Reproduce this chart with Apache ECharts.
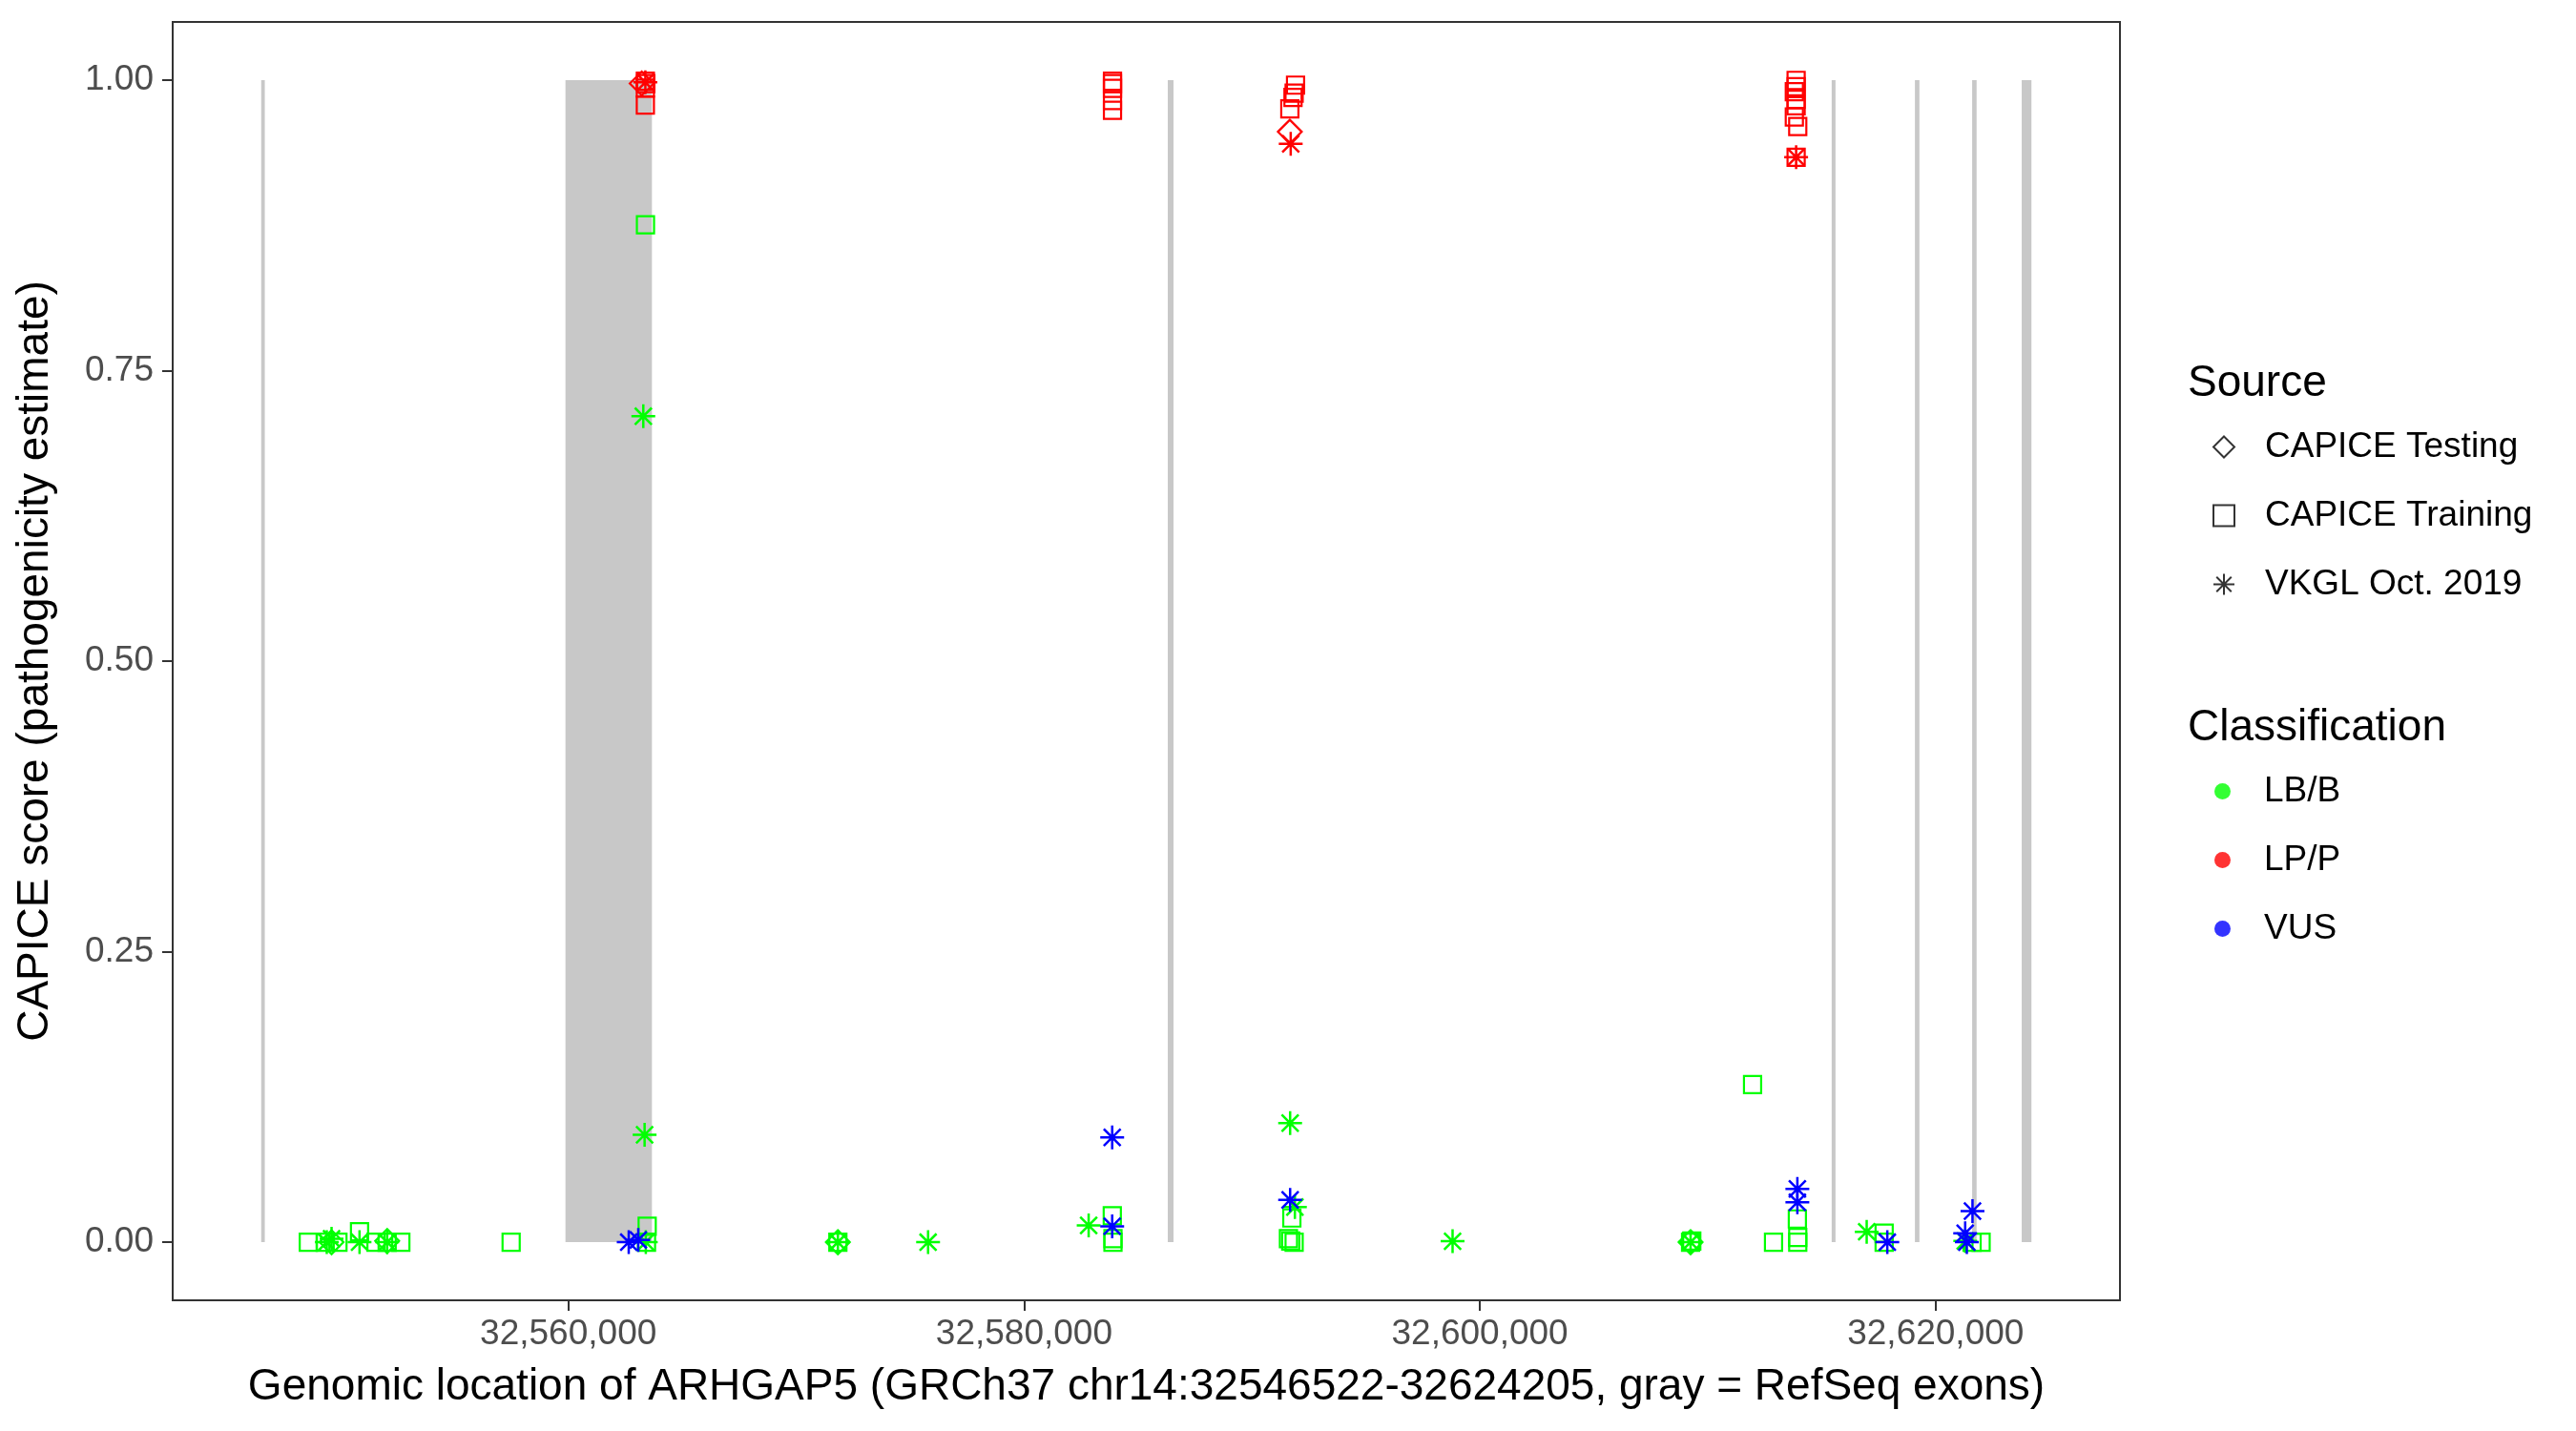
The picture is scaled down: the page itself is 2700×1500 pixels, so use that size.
<!DOCTYPE html>
<html>
<head>
<meta charset="utf-8">
<script src="https://cdn.jsdelivr.net/npm/echarts@6/dist/echarts.min.js"></script>
<style>
html,body{margin:0;padding:0;background:#fff;}
#chart{width:2700px;height:1500px;}
</style>
</head>
<body>
<div id="chart"></div>
<script>
// ---- Data ----
const xTicks = [32560000, 32580000, 32600000, 32620000];
const yTicks = [0, 0.25, 0.5, 0.75, 1.0];

// RefSeq exons [start, end]
const exonStarts = [32546522, 32559874, 32586305, 32615439, 32619092, 32621603, 32623778];
const exonEnds   = [32546680, 32563669, 32586556, 32615607, 32619289, 32621799, 32624205];

// CAPICE Training (squares)
const trainingLBB = [[32548590,0],[32549330,0],[32549890,0],[32550837,0.009],[32551561,0],[32552050,0],[32552650,0],[32557490,0],[32563385,0.8755],[32563460,0.0137],[32563430,0],[32571828,0],[32583870,0.0227],[32583900,0.003],[32583900,0],[32591750,0.0208],[32591600,0.003],[32591700,0.001],[32591850,0],[32609247,0],[32609300,0.001],[32611967,0.1356],[32612887,0],[32613933,0.020],[32613950,0.004],[32613950,0],[32617741,0.0077],[32617741,0],[32621996,0],[32621600,0]];
const trainingLPP = [[32563380,0.999],[32563400,0.997],[32563380,0.993],[32563380,0.9785],[32583879,0.999],[32583879,0.997],[32583879,0.9928],[32583879,0.9823],[32583879,0.9739],[32591912,0.9956],[32591850,0.9888],[32591800,0.985],[32591661,0.9752],[32613879,0.9997],[32613879,0.9943],[32613800,0.990],[32613879,0.9834],[32613879,0.9779],[32613800,0.9683],[32613950,0.960],[32613879,0.9336]];

// CAPICE Testing (diamonds)
const testingLBB = [[32549610,0],[32552050,0.001],[32571828,0],[32609247,0]];
const testingLPP = [[32563220,0.997],[32591661,0.9555]];

// VKGL Oct. 2019 (asterisks)
const vkglLBB = [[32549610,0.003],[32549400,0],[32550837,0],[32552050,0],[32563290,0.7107],[32563347,0.0924],[32563400,0],[32571828,0],[32575787,0],[32582833,0.0145],[32591674,0.1025],[32591883,0.0303],[32598803,0.0008],[32609247,0],[32616975,0.009],[32621300,0.001]];
const vkglLPP = [[32563380,0.998],[32591700,0.9451],[32613879,0.9336]];
const vkglVUS = [[32562650,0],[32563070,0.002],[32583866,0.0902],[32583866,0.0137],[32591674,0.0364],[32613933,0.0459],[32613933,0.0344],[32617880,0],[32621618,0.0268],[32621297,0.0077],[32621370,0]];

const sourceNames = ['CAPICE Testing', 'CAPICE Training', 'VKGL Oct. 2019'];
const classNames = ['LB/B', 'LP/P', 'VUS'];

// ---- Styling ----
const FONT = '"Liberation Sans", Arial, Helvetica, sans-serif';
const COL = {'LB/B': '#00FF00', 'LP/P': '#FF0000', 'VUS': '#0000FF'};
const ASTERISK = 'path://M0,-10L0,10M-10,0L10,0M-7.07,-7.07L7.07,7.07M-7.07,7.07L7.07,-7.07';
const SHAPE = {
  'CAPICE Testing': {symbol: 'diamond', size: 25},
  'CAPICE Training': {symbol: 'rect', size: 18},
  'VKGL Oct. 2019': {symbol: ASTERISK, size: 25}
};

function pointSeries(name, source, cls, data) {
  return {
    name: name,
    type: 'scatter',
    data: data,
    symbol: SHAPE[source].symbol,
    symbolSize: SHAPE[source].size,
    itemStyle: {color: 'transparent', borderColor: COL[cls], borderWidth: source === 'VKGL Oct. 2019' ? 2.5 : 2.2, opacity: 1},
    emphasis: {disabled: true},
    silent: true,
    z: 3
  };
}

const exonData = exonStarts.map((s, i) => [s, exonEnds[i], 0, 1]);

const series = [
  {
    name: 'exons',
    type: 'custom',
    data: exonData,
    encode: {x: [0, 1], y: [2, 3]},
    silent: true,
    z: 1,
    renderItem: function (params, api) {
      const a = api.coord([api.value(0), api.value(3)]);
      const b = api.coord([api.value(1), api.value(2)]);
      return {
        type: 'rect',
        shape: {x: a[0], y: a[1], width: Math.max(b[0] - a[0], 1), height: b[1] - a[1]},
        style: {fill: '#C8C8C8'}
      };
    }
  },
  pointSeries('tr_LBB', 'CAPICE Training', 'LB/B', trainingLBB),
  pointSeries('te_LBB', 'CAPICE Testing', 'LB/B', testingLBB),
  pointSeries('vk_LBB', 'VKGL Oct. 2019', 'LB/B', vkglLBB),
  pointSeries('tr_LPP', 'CAPICE Training', 'LP/P', trainingLPP),
  pointSeries('te_LPP', 'CAPICE Testing', 'LP/P', testingLPP),
  pointSeries('vk_LPP', 'VKGL Oct. 2019', 'LP/P', vkglLPP),
  pointSeries('vk_VUS', 'VKGL Oct. 2019', 'VUS', vkglVUS)
];

// legend dummy series
sourceNames.forEach(n => {
  series.push({
    name: n, type: 'scatter', data: [],
    symbol: SHAPE[n].symbol,
    itemStyle: {color: 'transparent', borderColor: '#000000', borderWidth: 2.2}
  });
});
classNames.forEach(n => {
  series.push({
    name: n, type: 'scatter', data: [],
    symbol: 'circle',
    itemStyle: {color: COL[n]}
  });
});

const fmtComma = v => Math.round(v).toString().replace(/\B(?=(\d{3})+(?!\d))/g, ',');

const option = {
  backgroundColor: '#ffffff',
  animation: false,
  textStyle: {fontFamily: FONT},
  title: [
    {text: 'Source', left: 2288, top: 374, textStyle: {fontFamily: FONT, fontSize: 46, fontWeight: 'normal', color: '#000', lineHeight: 46}},
    {text: 'Classification', left: 2288, top: 735, textStyle: {fontFamily: FONT, fontSize: 46, fontWeight: 'normal', color: '#000', lineHeight: 46}}
  ],
  legend: [
    {
      data: sourceNames,
      orient: 'vertical',
      left: 2314, top: 445,
      itemWidth: 22, itemHeight: 22, itemGap: 35,
      selectedMode: false,
      textStyle: {fontFamily: FONT, fontSize: 37, color: '#000', lineHeight: 22, padding: [0, 0, 0, 27]}
    },
    {
      data: classNames,
      orient: 'vertical',
      left: 2316, top: 806,
      itemWidth: 17, itemHeight: 17, itemGap: 35,
      selectedMode: false,
      textStyle: {fontFamily: FONT, fontSize: 37, color: '#000', lineHeight: 17, padding: [0, 0, 0, 30]}
    }
  ],
  grid: {
    left: 181, right: 478, top: 23, bottom: 137,
    show: true, borderColor: '#333333', borderWidth: 2, backgroundColor: 'transparent',
    containLabel: false
  },
  xAxis: {
    type: 'value',
    min: 32542638, max: 32628089,
    name: 'Genomic location of ARHGAP5 (GRCh37 chr14:32546522-32624205, gray = RefSeq exons)',
    nameLocation: 'middle', nameGap: 68,
    nameTextStyle: {fontFamily: FONT, fontSize: 46, color: '#000'},
    axisLine: {show: false, onZero: false},
    splitLine: {show: false},
    axisTick: {show: true, inside: false, customValues: xTicks, length: 11, lineStyle: {color: '#333333', width: 2}},
    axisLabel: {customValues: xTicks, formatter: fmtComma, fontFamily: FONT, fontSize: 37, color: '#4D4D4D', margin: 17}
  },
  yAxis: {
    type: 'value',
    min: -0.05, max: 1.05,
    name: 'CAPICE score (pathogenicity estimate)',
    nameLocation: 'middle', nameGap: 121,
    nameTextStyle: {fontFamily: FONT, fontSize: 46, color: '#000'},
    axisLine: {show: false, onZero: false},
    splitLine: {show: false},
    axisTick: {show: true, inside: false, customValues: yTicks, length: 11, lineStyle: {color: '#333333', width: 2}},
    axisLabel: {customValues: yTicks, formatter: v => v.toFixed(2), fontFamily: FONT, fontSize: 37, color: '#4D4D4D', margin: 20}
  },
  series: series
};

const chart = echarts.init(document.getElementById('chart'), null, {renderer: 'canvas'});
chart.setOption(option);
</script>
</body>
</html>
